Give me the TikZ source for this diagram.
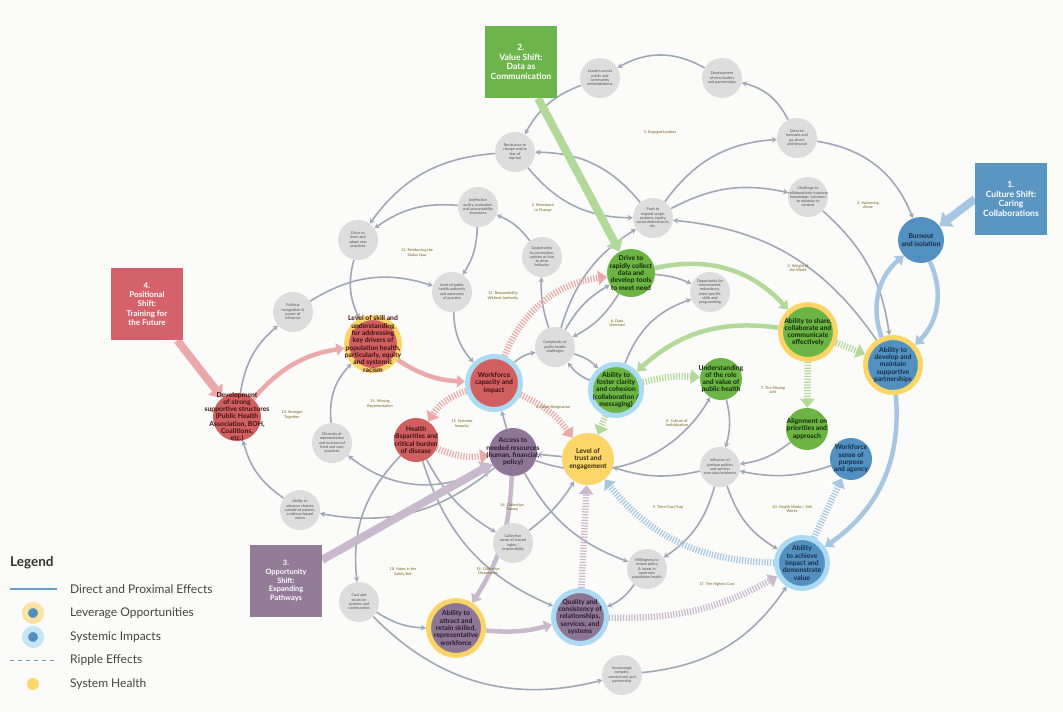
\documentclass[tikz,border=0pt]{standalone}
\usepackage{fontspec}
\setmainfont{Lato}
\usetikzlibrary{arrows.meta}
\pgfdeclarelayer{bg}
\pgfdeclarelayer{edges}
\pgfsetlayers{bg,edges,main}
\definecolor{pagebg}{RGB}{251,251,249}
\definecolor{gfill}{RGB}{221,221,221}
\definecolor{gtext}{RGB}{80,80,80}
\definecolor{edgec}{RGB}{160,168,182}
\definecolor{bluec}{RGB}{82,144,192}
\definecolor{bluet}{RGB}{24,44,72}
\definecolor{greenc}{RGB}{108,180,68}
\definecolor{greent}{RGB}{20,40,10}
\definecolor{redc}{RGB}{210,95,96}
\definecolor{redt}{RGB}{58,18,18}
\definecolor{purpc}{RGB}{142,118,150}
\definecolor{purpt}{RGB}{40,28,46}
\definecolor{yellc}{RGB}{253,214,106}
\definecolor{yellt}{RGB}{55,40,8}
\definecolor{ringy}{RGB}{251,213,104}
\definecolor{ringb}{RGB}{170,219,242}
\definecolor{ringyl}{RGB}{252,227,163}
\definecolor{ringbl}{RGB}{197,230,245}
\definecolor{loopc}{RGB}{110,94,20}
\definecolor{boxgreen}{RGB}{109,181,74}
\definecolor{boxblue}{RGB}{91,149,194}
\definecolor{boxred}{RGB}{213,98,106}
\definecolor{boxpurp}{RGB}{146,124,150}
\definecolor{greenlt}{RGB}{178,217,153}
\definecolor{bluelt}{RGB}{166,198,225}
\definecolor{redlt}{RGB}{234,170,170}
\definecolor{purplt}{RGB}{200,185,204}
\definecolor{legtext}{RGB}{68,68,68}
\definecolor{legline}{RGB}{106,154,199}
\begin{document}
\begin{tikzpicture}[x=1pt,y=1pt,
  ctxt/.style={align=center, font=\bfseries\fontsize{6.8}{7.3}\selectfont, inner sep=0pt},
  gtxt/.style={align=center, font=\fontsize{3.8}{4.3}\selectfont, text=gtext, inner sep=0pt},
  ct/.style 2 args={label={[ctxt,text=#1]center:{#2}}},
  gt/.style={label={[gtxt]center:{#1}}},
  gnode/.style={circle, fill=gfill, minimum size=40pt, inner sep=0pt},
  cnode/.style={circle, inner sep=0pt},
  bluen/.style={cnode, fill=bluec},
  greenn/.style={cnode, fill=greenc},
  redn/.style={cnode, fill=redc},
  purpn/.style={cnode, fill=purpc},
  yelln/.style={cnode, fill=yellc},
  lever/.style={draw=ringy, line width=5pt},
  systemic/.style={draw=ringb, line width=5pt},
  loopl/.style={align=center, font=\fontsize{3.8}{4.3}\selectfont, text=loopc, inner sep=0pt},
  shiftbox/.style={minimum width=72pt, minimum height=72pt, inner sep=0pt, align=center, text=white, font=\bfseries\fontsize{8.6}{9.6}\selectfont},
  ge/.style={draw=edgec, line width=1.6pt, -{Stealth[length=5pt,width=5.5pt,inset=1.5pt]}},
  td/.style={line width=4.5pt, -{Triangle[length=8pt,width=12pt]}},
  rp/.style={line width=6.5pt, dash pattern=on 1.2pt off 1.6pt, -{Triangle[length=9pt,width=14pt]}},
  sa/.style={line width=8pt, -{Triangle[length=11pt,width=18pt]}},
  legitem/.style={anchor=west, inner sep=0pt, text=legtext, font=\fontsize{12}{14}\selectfont}
]
\useasboundingbox (0,0) rectangle (1063,-712);
\begin{pgfonlayer}{bg}
\fill[pagebg] (0,0) rectangle (1063,-712);
\end{pgfonlayer}

% shift boxes
\node[shiftbox, fill=boxgreen] (box2) at (521,-62) {2.\\Value Shift:\\Data as\\Communication};
\node[shiftbox, fill=boxblue] (box1) at (1011,-199) {1.\\Culture Shift:\\Caring\\Collaborations};
\node[shiftbox, fill=boxred, font=\bfseries\fontsize{8}{9.4}\selectfont] (box4) at (147,-304) {4.\\Positional\\Shift:\\Training for\\the Future};
\node[shiftbox, fill=boxpurp, font=\bfseries\fontsize{7.4}{8.8}\selectfont] (box3) at (286,-581) {3.\\Opportunity\\Shift:\\Expanding\\Pathways};

% gray nodes
\node[gnode, gt={Leaders across\\public and\\community\\embeddedness}] (leaders) at (600,-78) {};
\node[gnode, gt={Development\\of new leaders\\and partnerships}] (devlead) at (722,-78) {};
\node[gnode, gt={Drive to\\innovate and\\go above\\and beyond}] (innov) at (797,-138) {};
\node[gnode, gt={Challenge to\\collaboratively translate\\knowledge/ solutions\\to maintain in\\context}] (challenge) at (808,-197) {};
\node[gnode, gt={Push to\\expand scope,\\systems, equity,\\social determinants,\\etc.}] (push) at (653,-218) {};
\node[gnode, gt={Resistance to\\change and/or\\fear of\\reprisal}] (resist) at (515,-152) {};
\node[gnode, gt={Ineffective\\policy, evaluation\\and accountability\\structures}] (ineff) at (478,-207) {};
\node[gnode, gt={Opportunity\\for perception,\\opinion or bias\\to drive\\behavior}] (opport) at (542,-257) {};
\node[gnode, gt={Drive to\\learn and\\adopt new\\practices}] (drivelearn) at (358,-240) {};
\node[gnode, gt={Level of public\\health authority\\and autonomy\\of practice}] (authority) at (452,-292) {};
\node[gnode, gt={Political\\recognition \&\\power of\\influence}] (political) at (293,-312) {};
\node[gnode, gt={Opportunity for\\reinvestment,\\redundancy,\\more specific\\skills and\\programming}] (reinv) at (710,-292) {};
\node[gnode, gt={Complexity of\\public health\\challenges}] (complexity) at (555,-347) {};
\node[gnode, gt={Diversity of\\representation\\and inclusion of\\lived and case\\practices}] (diversity) at (332,-443) {};
\node[gnode, gt={Ability to\\advance choices\\outside of pattern,\\evidence-based\\values}] (advance) at (300,-510) {};
\node[gnode, gt={Influence of\\partisan politics\\and opinion\\over data/evidence}] (influence) at (720,-467) {};
\node[gnode, gt={Collective\\sense of shared\\rights /\\responsibility}] (collective) at (513,-543) {};
\node[gnode, gt={Cost and\\strain on\\systems and\\communities}] (cost) at (359,-602) {};
\node[gnode, gt={Willingness to\\review policy\\\& invest in\\upstream\\population health}] (willing) at (647,-569) {};
\node[gnode, gt={Increasingly\\complex,\\constrained, and\\partnership}] (increasing) at (622,-675) {};

% coloured nodes
\node[bluen, minimum size=46pt, ct={bluet}{Burnout\\and isolation}] (burn) at (921,-240) {};
\node[bluen, lever, minimum size=55pt, ct={bluet}{Ability to\\develop and\\maintain\\supportive\\partnerships}] (partner) at (893,-365) {};
\node[greenn, lever, minimum size=55pt, ct={greent}{Ability to share,\\collaborate and\\communicate\\effectively}] (share) at (808,-332) {};
\node[greenn, minimum size=48pt, ct={greent}{Drive to\\rapidly collect\\data and\\develop tools\\to meet need}] (drive) at (631,-273) {};
\node[greenn, minimum size=42pt, ct={greent}{Understanding\\of the role\\and value of\\public health}] (underst) at (721,-379) {};
\node[greenn, minimum size=42pt, ct={greent}{Alignment on\\priorities and\\approach}] (align) at (807,-429) {};
\node[bluen, minimum size=42pt, ct={bluet}{Workforce\\sense of\\purpose\\and agency}] (sense) at (851,-459) {};
\node[bluen, systemic, minimum size=51pt, ct={bluet}{Ability\\to achieve\\impact and\\demonstrate\\value}] (achieve) at (802,-563) {};
\node[greenn, systemic, minimum size=51pt, ct={greent}{Ability to\\foster clarity\\and cohesion\\(collaboration /\\messaging)}] (foster) at (616,-390) {};
\node[yelln, minimum size=52pt, ct={yellt}{Level of\\trust and\\engagement}] (trust) at (588,-459) {};
\node[purpn, minimum size=48pt, ct={purpt}{Access to\\needed resources\\(human, financial,\\policy)}] (access) at (513,-452) {};
\node[redn, systemic, minimum size=53pt, ct={redt}{Workforce\\capacity and\\impact}] (wcap) at (494,-383) {};
\node[redn, minimum size=44pt, ct={redt}{Health\\disparities and\\critical burden\\of disease}] (health) at (416,-440) {};
\node[redn, lever, minimum size=53pt, ct={redt}{Level of skill and\\understanding\\for addressing\\key drivers of\\population health,\\particularly, equity\\and systemic\\racism}] (skill) at (373,-344) {};
\node[redn, minimum size=48pt, ct={redt}{Development\\of strong\\supportive structures\\(Public Health\\Association, BOH,\\Coalitions,\\etc.)}] (dev) at (237,-417) {};
\node[purpn, lever, minimum size=55pt, ct={purpt}{Ability to\\attract and\\retain skilled,\\representative\\workforce}] (attract) at (456,-628) {};
\node[purpn, systemic, minimum size=53pt, ct={purpt}{Quality and\\consistency of\\relationships,\\services, and\\systems}] (quality) at (580,-617) {};

% loop labels
\node[loopl] (ll3) at (660,-132) {3. Engaged Leaders};
\node[loopl] (ll5) at (543,-208) {5. Resistance\\to Change};
\node[loopl] (ll3b) at (868,-205) {3. Swimming\\Alone};
\node[loopl] (ll2) at (798,-268) {2. Weight of\\the World};
\node[loopl] (ll12) at (417,-253) {12. Reinforcing the\\Status Quo};
\node[loopl] (ll11) at (503,-296) {11. Responsibility\\Without Authority};
\node[loopl] (ll6) at (617,-323) {6. Data\\Overload};
\node[loopl] (ll7) at (773,-390) {7. The Missing\\Link};
\node[loopl] (ll13) at (292,-415) {13. Stronger\\Together};
\node[loopl] (ll14) at (380,-404) {14. Missing\\Representation};
\node[loopl] (ll15) at (462,-424) {15. Systemic\\Inequity};
\node[loopl] (ll4) at (553,-407) {4. Great Resignation};
\node[loopl] (ll8) at (677,-423) {8. Culture of\\Individualism};
\node[loopl] (ll9) at (668,-507) {9. Time/Cost Trap};
\node[loopl] (ll10) at (792,-509) {10. Health Works / Still\\Works};
\node[loopl] (ll17) at (717,-584) {17. The Highest Cost};
\node[loopl] (ll16) at (512,-507) {16. Collective\\Trauma};
\node[loopl] (ll18) at (403,-572) {18. Holes in the\\Safety Net};
\node[loopl] (ll19) at (488,-571) {19. Collective\\Dissonance};

% legend
\node[anchor=west, inner sep=0pt, text=black!80, font=\bfseries\fontsize{13.5}{15}\selectfont] (legtitle) at (10,-563) {Legend};
\draw[legline, line width=1.2pt] (10,-589) -- (57,-589);
\node[legitem] (leg1) at (70,-589) {Direct and Proximal Effects};
\node[circle, fill=bluec, draw=ringyl, line width=6pt, minimum size=16pt, inner sep=0pt] (legsym2) at (33,-613) {};
\node[legitem] (leg2) at (70,-613) {Leverage Opportunities};
\node[circle, fill=bluec, draw=ringbl, line width=6pt, minimum size=16pt, inner sep=0pt] (legsym3) at (33,-637) {};
\node[legitem] (leg3) at (70,-637) {Systemic Impacts};
\draw[legline, line width=1pt, dash pattern=on 4pt off 4pt] (10,-660) -- (57,-660);
\node[legitem] (leg4) at (70,-660) {Ripple Effects};
\node[circle, fill=yellc, minimum size=12pt, inner sep=0pt] (legsym5) at (33,-684) {};
\node[legitem] (leg5) at (70,-684) {System Health};

\begin{pgfonlayer}{edges}
% gray direct connectors
\draw[ge] (leaders) to[bend right=20] (resist);
\draw[ge] (devlead) to[bend right=30] (leaders);
\draw[ge] (innov) to[bend right=25] (devlead);
\draw[ge] (push) to[bend left=25] (innov);
\draw[ge] (push) to[bend left=20] (challenge);
\draw[ge] (innov) to[bend left=30] (burn);
\draw[ge] (challenge) to[bend left=20] (partner);
\draw[ge] (partner) to[bend right=25] (push);
\draw[ge] (resist) to[bend right=25] (push);
\draw[ge] (push) to[bend right=25] (resist);
\draw[ge] (resist) to[bend right=25] (drivelearn);
\draw[ge] (ineff) to[bend right=20] (drivelearn);
\draw[ge] (drivelearn) to[bend right=20] (skill);
\draw[ge] (opport) to[bend right=15] (ineff);
\draw[ge] (ineff) to[bend left=15] (authority);
\draw[ge] (political) to[bend left=25] (authority);
\draw[ge] (dev) to[bend left=20] (political);
\draw[ge] (authority) to[bend right=20] (wcap);
\draw[ge] (complexity) to[bend left=10] (opport);
\draw[ge] (complexity) to[bend left=20] (push);
\draw[ge] (complexity) to[bend left=15] (drive);
\draw[ge] (drive) to[bend left=15] (complexity);
\draw[ge] (drive) to[bend left=10] (reinv);
\draw[ge] (foster) to[bend left=25] (reinv);
\draw[ge] (wcap) to[bend left=15] (complexity);
\draw[ge] (complexity) to[bend left=15] (foster);
\draw[ge] (foster) to[bend left=15] (complexity);
\draw[ge] (diversity) to[bend left=25] (skill);
\draw[ge] (access) to[bend left=35] (diversity);
\draw[ge] (advance) to[bend left=20] (dev);
\draw[ge] (access) to[bend left=25] (advance);
\draw[ge] (health) to[bend right=25] (cost);
\draw[ge] (cost) to[bend right=15] (attract);
\draw[ge] (cost) to[bend right=30] (increasing);
\draw[ge] (increasing) to[bend right=25] (achieve);
\draw[ge] (willing) to[bend left=15] (quality);
\draw[ge] (influence) to[bend left=20] (willing);
\draw[ge] (influence) to[bend right=20] (achieve);
\draw[ge] (align) to[bend left=15] (influence);
\draw[ge] (sense) to[bend left=15] (influence);
\draw[ge] (underst) to[bend left=15] (influence);
\draw[ge] (influence) to[bend left=15] (trust);
\draw[ge] (trust) -- (access);
\draw[ge] (access) to[bend right=40] (underst);
\draw[ge] (health) to[bend right=25] (quality);
\draw[ge] (access) to[bend right=20] (willing);
\draw[ge] (health) to[bend right=15] (collective);
\draw[ge] (collective) to[bend right=10] (trust);
\draw[ge] (access) -- (wcap);
% thick direct effects
\draw[td, draw=redlt] (dev) to[bend left=20] (skill);
\draw[td, draw=redlt] (skill) to[bend right=15] (wcap);
\draw[td, draw=greenlt] (drive) to[bend left=30] (share);
\draw[td, draw=greenlt] (share) to[bend right=25] (foster);
\draw[td, draw=bluelt] (partner) to[bend left=35] (burn);
\draw[td, draw=bluelt] (burn) to[bend left=35] (partner);
\draw[td, draw=bluelt] (partner) to[bend left=30] (achieve);
\draw[td, draw=purplt] (access) to[bend left=15] (attract);
\draw[td, draw=purplt] (attract) to[bend right=10] (quality);
% ripple effects
\draw[rp, draw=redlt] (wcap) to[bend left=30] (drive);
\draw[rp, draw=redlt] (wcap) to[bend right=20] (health);
\draw[rp, draw=redlt] (health) to[bend right=15] (access);
\draw[rp, draw=redlt] (wcap) to[bend left=15] (trust);
\draw[rp, draw=greenlt] (foster) to[bend left=10] (underst);
\draw[rp, draw=greenlt] (foster) -- (trust);
\draw[rp, draw=greenlt] (share) -- (partner);
\draw[rp, draw=greenlt] (share) -- (align);
\draw[rp, draw=purplt] (quality) -- (trust);
\draw[rp, draw=bluelt] (achieve) to[bend left=25] (trust);
\draw[rp, draw=bluelt] (achieve) -- (sense);
\draw[rp, draw=purplt] (quality) to[bend right=15] (achieve);
% shift arrows
\draw[sa, draw=greenlt] ([xshift=17pt]box2.south) -- (drive);
\draw[sa, draw=bluelt] (box1.west) -- (burn);
\draw[sa, draw=redlt] ([xshift=-6pt]box4.south east) -- (dev);
\draw[sa, draw=purplt] ([yshift=-15pt]box3.north east) -- (access);
\end{pgfonlayer}
\end{tikzpicture}
\end{document}
